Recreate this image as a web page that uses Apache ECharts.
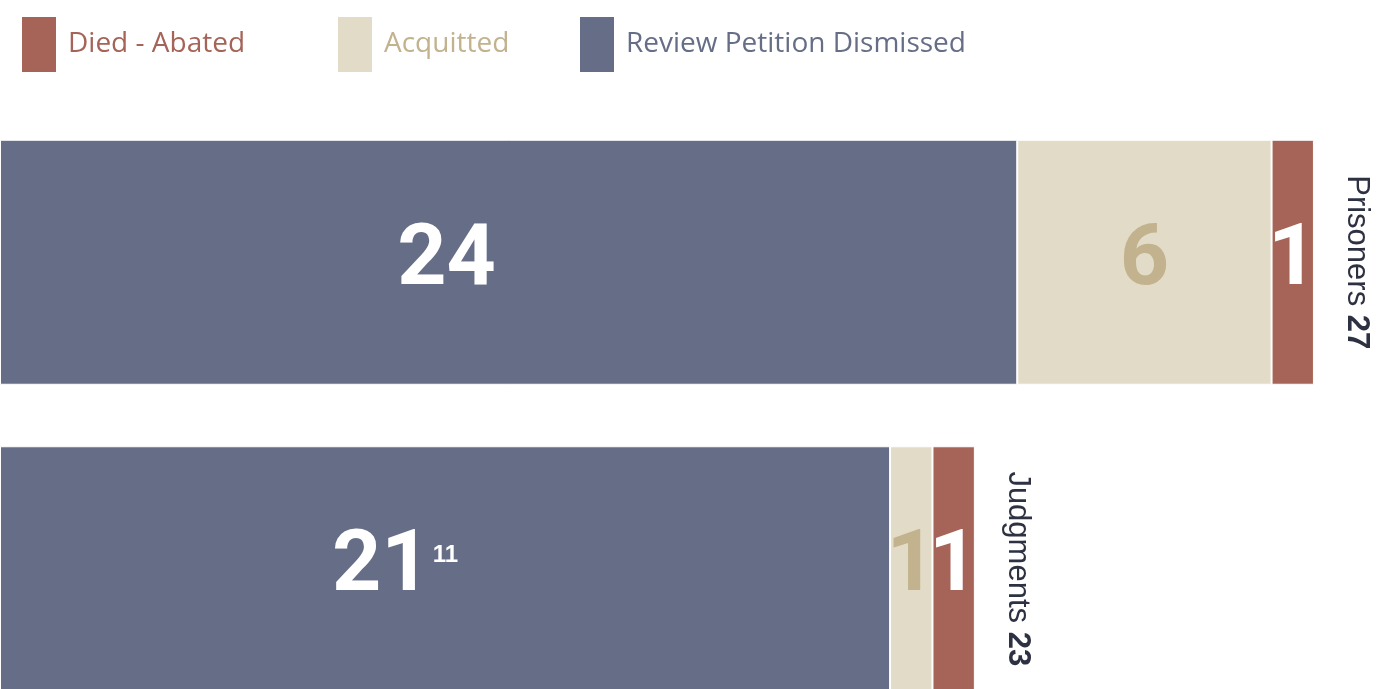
<!DOCTYPE html>
<html>
<head>
<meta charset="utf-8">
<script src="https://cdn.jsdelivr.net/npm/echarts@6/dist/echarts.min.js"></script>
<style>
  html, body { margin: 0; padding: 0; background: #fff; }
  #chart { width: 1386px; height: 689px; }
</style>
</head>
<body>
<div id="chart"></div>
<script>
// 数据
var categories = ['Prisoners', 'Judgments'];
var totals = [27, 23];
var dismissed = [24, 21];
var acquitted = [6, 1];
var died = [1, 1];
var footnotes = ['', '11'];

var colSlate = '#666e87',
    colCream = '#e2dbc8',
    colBrick = '#a56457',
    colTan = '#c2b28d',
    colDark = '#2d3142';

var myChart = echarts.init(document.getElementById('chart'));

var numFont = 'Roboto, "Liberation Sans", Arial, sans-serif';
var sideFont = '"Liberation Sans", Arial, sans-serif';
var legendFont = '"Open Sans", "Noto Sans", sans-serif';

function legendAt(left, name, color) {
	return {
		left: left,
		top: 15,
		padding: 0,
		icon: 'rect',
		itemWidth: 36,
		itemHeight: 57,
		itemGap: 0,
		selectedMode: false,
		data: [{ name: name, textStyle: { color: color } }],
		textStyle: { fontFamily: legendFont, fontSize: 28, padding: [6, 0, 0, 6] }
	};
}

// 内部数字标签
var bigLabel = {
	show: true,
	position: 'inside',
	fontFamily: numFont,
	fontWeight: 'bold',
	fontSize: 86
};

var option = {
	animation: false,
	legend: [
		legendAt(20, 'Died - Abated', colBrick),
		legendAt(336, 'Acquitted', colTan),
		legendAt(578, 'Review Petition Dismissed', colSlate)
	],
	grid: { left: 0, right: 0, top: 109, height: 613, outerBoundsMode: 'none', containLabel: false },
	xAxis: { type: 'value', min: 0, max: 32.7, show: false },
	yAxis: { type: 'category', data: categories, inverse: true, show: false },
	series: [
		{
			name: 'Review Petition Dismissed',
			type: 'bar',
			stack: 'all',
			barWidth: 245,
			itemStyle: { color: colSlate, borderColor: '#fff', borderWidth: 1 },
			label: Object.assign({}, bigLabel, {
				color: '#fff',
				formatter: function (p) {
					var f = footnotes[p.dataIndex];
					return f ? '{n|' + p.value + '}{s|' + f + '}' : '{n|' + p.value + '}';
				},
				rich: {
					n: { fontFamily: numFont, fontWeight: 'bold', fontSize: 86, color: '#fff', lineHeight: 86 },
					s: { fontFamily: sideFont, fontSize: 24, color: '#fff', verticalAlign: 'top', lineHeight: 24, padding: [18, 0, 0, 2] }
				}
			}),
			data: dismissed.map(function (v, i) {
				return { value: v, label: { offset: [i === 0 ? -62 : -50, 0] } };
			})
		},
		{
			name: 'Acquitted',
			type: 'bar',
			stack: 'all',
			itemStyle: { color: colCream, borderColor: '#fff', borderWidth: 1 },
			label: Object.assign({}, bigLabel, { color: colTan }),
			data: acquitted
		},
		{
			name: 'Died - Abated',
			type: 'bar',
			stack: 'all',
			itemStyle: { color: colBrick, borderColor: '#fff', borderWidth: 1 },
			label: Object.assign({}, bigLabel, { color: '#fff' }),
			data: died
		},
		// 右侧竖排总数标签
		{
			name: 'total',
			type: 'bar',
			stack: 'all',
			silent: true,
			itemStyle: { color: 'transparent' },
			label: {
				show: true,
				position: 'left',
				rotate: -90,
				align: 'center',
				verticalAlign: 'bottom',
				distance: -27,
				formatter: function (p) {
					return '{a|' + categories[p.dataIndex] + ' }{b|' + totals[p.dataIndex] + '}';
				},
				rich: {
					a: { fontFamily: sideFont, fontSize: 31, color: colDark },
					b: { fontFamily: sideFont, fontSize: 31, fontWeight: 'bold', color: colDark }
				}
			},
			data: [0.0001, 0.0001]
		}
	]
};

option && myChart.setOption(option);
</script>
</body>
</html>
